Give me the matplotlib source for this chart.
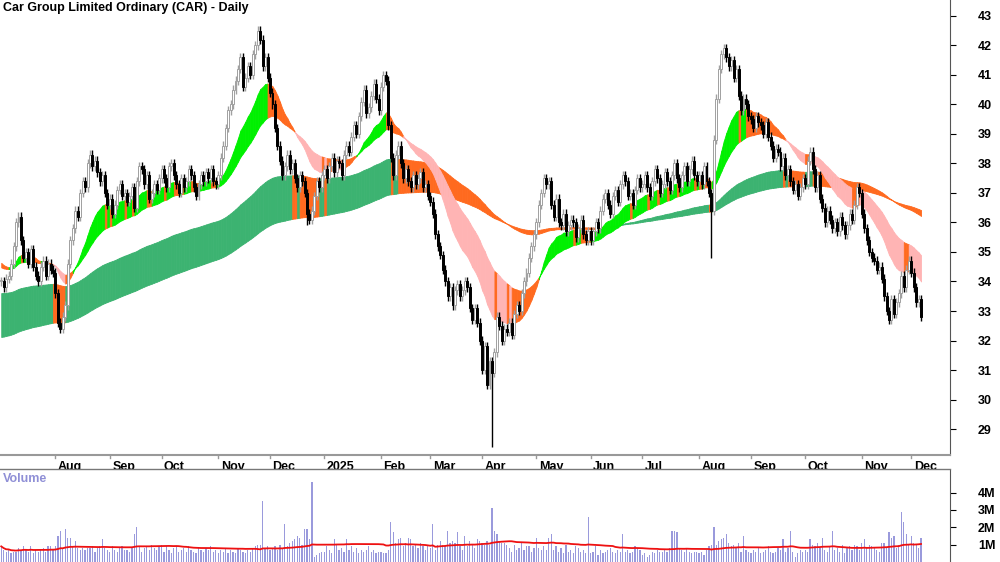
import numpy as np
import pandas as pd
import matplotlib
matplotlib.use("Agg")
import matplotlib.pyplot as plt

plt.rcParams['font.family'] = ['Liberation Sans', 'DejaVu Sans']

# daily closes, one list per month (Jul 2024 - Dec 2025)
closes_by_month = [
    [34.0,33.8,34.1,34.2,34.6,35.2,36.0,36.2,35.4,34.8,35.0,34.6,35.1,34.5,34.2,34.0,34.5,34.7,34.2,34.6,34.4,34.3],
    [33.6,32.6,32.4,32.8,33.2,34.6,35.4,35.8,36.4,36.2,37.0,37.4,37.2,38.0,38.3,37.9,38.1,37.7,37.4,37.6,37.0,36.6],
    [36.8,36.3,36.6,37.1,37.3,36.9,37.0,36.7,36.9,37.2,36.5,37.4,37.9,37.8,37.3,37.6,36.8,37.0,37.3,37.1,37.5],
    [37.8,37.5,37.2,37.9,38.0,37.6,37.3,37.0,37.5,37.2,37.4,37.8,37.6,37.2,36.9,37.3,37.6,37.4,37.7,37.5,37.8,37.4,37.3],
    [37.6,38.2,38.6,39.2,39.8,40.0,40.5,40.8,41.2,41.6,40.6,40.9,41.3,41.0,41.7,42.0,42.5,42.2,41.3,41.6,40.9],
    [40.4,40.0,39.2,38.6,38.1,37.6,37.9,38.3,37.8,38.0,37.5,37.2,37.6,37.4,37.0,36.3,36.1,36.4,36.9,37.4,37.2,37.6],
    [37.8,37.5,37.9,38.2,37.7,38.1,38.0,37.6,38.3,38.6,38.4,38.9,39.3,39.0,39.6,40.1,40.5,39.7,39.9,40.3,40.7,40.2,39.8],
    [40.6,41.0,40.8,39.3,38.2,37.6,38.3,38.6,38.0,37.5,37.8,37.4,37.2,37.6,37.3,37.5,37.7,37.2,37.3,36.9],
    [36.7,36.3,35.6,35.2,34.9,34.4,34.0,33.5,33.8,33.2,33.7,33.9,33.5,33.7,34.0,33.8,33.1,32.7,33.1,32.6,32.0],
    [31.0,31.8,30.5,31.3,30.9,31.6,32.8,32.5,32.0,32.4,32.3,32.6,32.2,32.9,33.2,33.0,33.6,34.0,34.3,34.8,35.2,35.6],
    [36.0,36.6,37.0,37.5,37.3,37.4,36.6,36.2,36.8,36.0,35.9,36.3,35.7,35.9,36.1,36.0,35.5,35.8,36.1,35.6,35.4,35.7],
    [35.4,35.7,36.0,35.8,36.4,36.8,37.0,36.6,36.3,36.9,37.1,36.7,37.3,37.6,37.4,36.9,37.0,36.6,37.1,37.5,37.2],
    [37.3,37.6,37.2,36.9,37.4,37.8,37.5,37.0,37.3,37.7,37.4,37.1,37.6,38.0,37.5,37.2,37.6,37.9,37.4,37.8,38.1,37.6,37.4],
    [37.6,37.3,37.9,37.4,37.0,36.4,38.8,40.2,41.2,41.7,41.9,41.6,41.3,41.5,40.9,41.2,40.3,39.8,40.2,40.0,39.6],
    [39.5,39.2,39.6,39.4,39.3,39.0,39.4,38.9,38.6,38.2,38.5,38.4,37.9,38.2,37.6,37.8,37.4,37.1,37.3,36.9,37.2,37.5],
    [37.3,38.1,38.4,37.8,37.2,37.6,36.8,36.5,36.0,36.4,36.1,35.8,36.0,35.7,36.2,35.9,35.6,35.9,36.3,36.1,36.6,37.2,37.0],
    [36.3,35.8,35.4,35.0,34.8,34.7,34.4,34.5,34.1,33.5,33.0,32.7,33.4,32.9,33.3,33.6,34.2,33.8,34.4,34.7],
    [34.3,33.8,33.3,33.4,32.8],
]

# volume in millions, same layout
volume_by_month = [
    [0.9,0.7,0.6,0.7,0.5,0.6,0.6,0.8,0.7,0.9,0.7,0.6,0.9,0.5,0.7,0.6,0.7,0.8,0.6,0.9,0.9,0.7],
    [0.9,1.5,1.8,0.8,1.9,1.4,1.4,0.9,1.2,0.8,0.7,0.8,0.7,0.8,0.8,0.9,0.6,0.8,0.9,1.3,0.8,0.7],
    [0.6,0.9,0.7,0.6,0.8,0.9,0.7,0.7,0.6,0.8,1.6,2.0,0.9,0.6,0.8,0.9,0.7,1.0,0.8,0.7,0.9],
    [1.0,0.6,0.9,0.7,0.5,0.8,0.9,0.6,0.7,0.8,0.6,0.9,0.7,0.6,0.5,0.8,0.7,0.6,0.8,0.7,0.9,0.6,0.7],
    [0.5,0.7,0.6,0.8,0.5,0.7,0.6,0.5,0.8,0.7,0.6,0.5,0.7,0.6,0.8,0.9,1.0,1.0,3.5,0.8,0.9],
    [0.7,0.8,0.9,0.7,1.0,0.8,2.2,0.9,1.1,1.2,1.3,1.5,1.4,1.0,1.9,1.9,1.3,4.6,0.3,0.4,0.5,0.6],
    [0.6,0.9,0.7,0.5,1.3,1.0,0.7,0.8,0.6,1.3,0.7,0.9,0.6,0.8,0.5,0.7,0.6,0.7,0.9,0.6,0.7,0.5,0.6],
    [0.6,0.5,0.5,0.7,2.3,1.7,1.1,1.3,1.4,0.9,1.1,1.4,1.3,0.9,1.0,0.8,1.1,0.9,0.7,1.0],
    [0.8,2.2,0.7,1.0,1.2,1.0,0.9,1.8,1.1,1.2,1.1,1.7,0.9,0.7,1.5,0.9,1.2,1.0,0.8,1.3,1.2],
    [1.1,1.0,1.2,1.0,3.1,1.8,1.6,1.2,1.1,1.1,1.0,0.8,0.6,1.0,0.7,0.8,1.1,0.7,0.9,0.9,0.6,0.8],
    [1.4,0.8,0.7,0.9,0.7,1.4,1.6,0.7,0.9,0.6,0.8,0.5,1.0,0.6,0.7,0.5,0.9,0.8,0.6,0.7,0.5,2.6],
    [0.5,0.6,0.9,0.4,0.7,0.5,0.6,0.7,0.8,0.6,0.5,0.7,0.6,1.6,0.6,0.7,0.5,0.6,0.9,0.8,0.7],
    [0.4,0.5,0.3,0.4,0.6,0.5,0.7,0.6,0.6,0.7,0.6,0.8,1.8,1.8,1.7,0.8,0.7,0.6,0.8,0.6,0.5,0.6,0.6],
    [0.5,0.6,0.4,0.7,0.9,1.0,2.0,1.0,1.2,1.3,1.4,1.6,1.1,0.9,1.0,0.8,1.1,0.6,1.5,0.7,0.6],
    [0.5,0.7,0.6,0.8,0.5,0.6,0.7,0.9,0.6,0.5,0.6,0.8,0.7,1.3,0.6,0.8,1.8,0.6,0.3,0.5,0.7,0.6],
    [0.7,0.6,1.3,1.0,0.9,1.1,0.8,1.4,0.7,0.6,0.9,1.8,0.7,0.8,0.6,1.0,0.5,0.8,0.9,0.7,1.0,0.9,0.7],
    [1.1,1.3,0.8,1.0,0.9,0.8,0.7,0.6,1.1,1.1,0.8,1.7,1.4,1.5,0.8,1.0,2.9,2.3,1.6,1.0],
    [1.5,1.1,1.0,0.8,1.4],
]

# long lower wicks
low_overrides = {'2024-12-23': 35.9, '2025-04-07': 28.4, '2025-08-08': 34.8}

# starting levels of the moving averages (history before the visible window)
short_seed = (34.7, 34.5)
long_seed = (33.6, 32.1)

close = np.array([c for m in closes_by_month for c in m])
vol = np.array([v for m in volume_by_month for v in m])
n = len(close)
dates = pd.bdate_range('2024-07-02', periods=n)
x = np.arange(n)

opn = np.r_[close[0], close[:-1]]
high = np.maximum(opn, close) + 0.15
low = np.minimum(opn, close) - 0.15
for d, v in low_overrides.items():
    idx = np.searchsorted(dates, pd.Timestamp(d))
    if idx < n:
        low[idx] = v


def ema(values, span, seed):
    a = 2.0 / (span + 1)
    out = np.empty(len(values))
    prev = seed
    for i, v in enumerate(values):
        prev = prev + a * (v - prev)
        out[i] = prev
    return out


s_fast = ema(close, 20, short_seed[0])
s_slow = ema(close, 42, short_seed[1])
l_fast = ema(close, 120, long_seed[0])
l_slow = ema(close, 200, long_seed[1])

fig = plt.figure(figsize=(10, 5.62), dpi=100)
ax = fig.add_axes([0, 107 / 562, 0.95, 455 / 562])
axv = fig.add_axes([0, 0, 0.95, 92 / 562])

# long ribbon: orange when price closes under the ribbon or the top turns down
for i in range(1, n):
    up = (l_fast[i] > l_slow[i] and l_fast[i] >= l_fast[i - 1] and close[i] >= l_slow[i])
    col = '#3cb371' if up else '#ff6a1f'
    ax.fill_between([i - 1, i], [l_fast[i - 1], l_fast[i]], [l_slow[i - 1], l_slow[i]],
                    facecolor=col, edgecolor=col, lw=0.6, zorder=1)
# short ribbon
for i in range(1, n):
    rising = s_fast[i] >= s_fast[i - 1]
    above = s_fast[i] > s_slow[i]
    if above and rising:
        col = '#00f000'
    elif not above and not rising:
        col = '#ffb4b4'
    else:
        col = '#ff6a1f'
    ax.fill_between([i - 1, i], [s_fast[i - 1], s_fast[i]], [s_slow[i - 1], s_slow[i]],
                    facecolor=col, edgecolor=col, lw=0.6, zorder=2)

# candles
upbar = close >= opn
ax.vlines(x[upbar], low[upbar], high[upbar], color='#a0a0a0', lw=1, zorder=3)
ax.vlines(x[~upbar], low[~upbar], high[~upbar], color='black', lw=1, zorder=3)
body_lo = np.minimum(opn, close)
body_h = np.maximum(np.abs(close - opn), 0.04)
ax.bar(x[upbar], body_h[upbar], bottom=body_lo[upbar], width=0.8, color='white',
       edgecolor='#a0a0a0', lw=0.7, zorder=4)
ax.bar(x[~upbar], body_h[~upbar], bottom=body_lo[~upbar], width=0.8, color='black',
       edgecolor='black', lw=0.7, zorder=4)

xmax = 950 / 2.466 - 0.5
ax.set_xlim(-0.5, xmax)
ax.set_ylim(28.12, 43.54)
ax.yaxis.tick_right()
ax.set_yticks(range(29, 44))
ax.tick_params(axis='y', length=4, labelsize=9, pad=16)
for t in ax.get_yticklabels():
    t.set_fontweight('bold')
ax.set_xticks([])
for s in ['top', 'left']:
    ax.spines[s].set_visible(False)
ax.spines['right'].set_color('#555555')
ax.spines['bottom'].set_color('#999999')
ax.spines['bottom'].set_linewidth(1.5)
ax.text(0.003, 0.995, 'Car Group Limited Ordinary (CAR) - Daily', transform=ax.transAxes,
        fontsize=9, fontweight='bold', va='top', ha='left')

# month labels
month_start = [i for i in range(1, n) if dates[i].month != dates[i - 1].month]
for i in month_start:
    lab = str(dates[i].year) if dates[i].month == 1 else dates[i].strftime('%b')
    ax.plot([i, i], [0, -0.006], transform=ax.get_xaxis_transform(), color='#999999',
            lw=1, clip_on=False)
    ax.text(i + 1, -0.013, lab, transform=ax.get_xaxis_transform(), fontsize=9,
            fontweight='bold', va='top', ha='left')
fig.add_artist(plt.Line2D([0, 0.95], [93 / 562, 93 / 562], color='#777777', lw=1))

# volume
axv.bar(x, vol, width=0.5, color='#9a9adc', zorder=2)
vma = pd.Series(vol).rolling(50, min_periods=1).mean()
axv.plot(x, vma, color='#ee1111', lw=1.3, zorder=3)
axv.set_xlim(-0.5, xmax)
axv.set_ylim(0, 5.3)
axv.yaxis.tick_right()
axv.set_yticks([1, 2, 3, 4])
axv.set_yticklabels(['1M', '2M', '3M', '4M'])
axv.tick_params(axis='y', length=4, labelsize=9, pad=16)
for t in axv.get_yticklabels():
    t.set_fontweight('bold')
axv.set_xticks([])
for s in ['top', 'left', 'bottom']:
    axv.spines[s].set_visible(False)
axv.spines['right'].set_color('#555555')
axv.text(0.003, 0.97, 'Volume', transform=axv.transAxes, fontsize=9, fontweight='bold',
         color='#8f8fd6', va='top')

fig.savefig('out.png', dpi=100)
